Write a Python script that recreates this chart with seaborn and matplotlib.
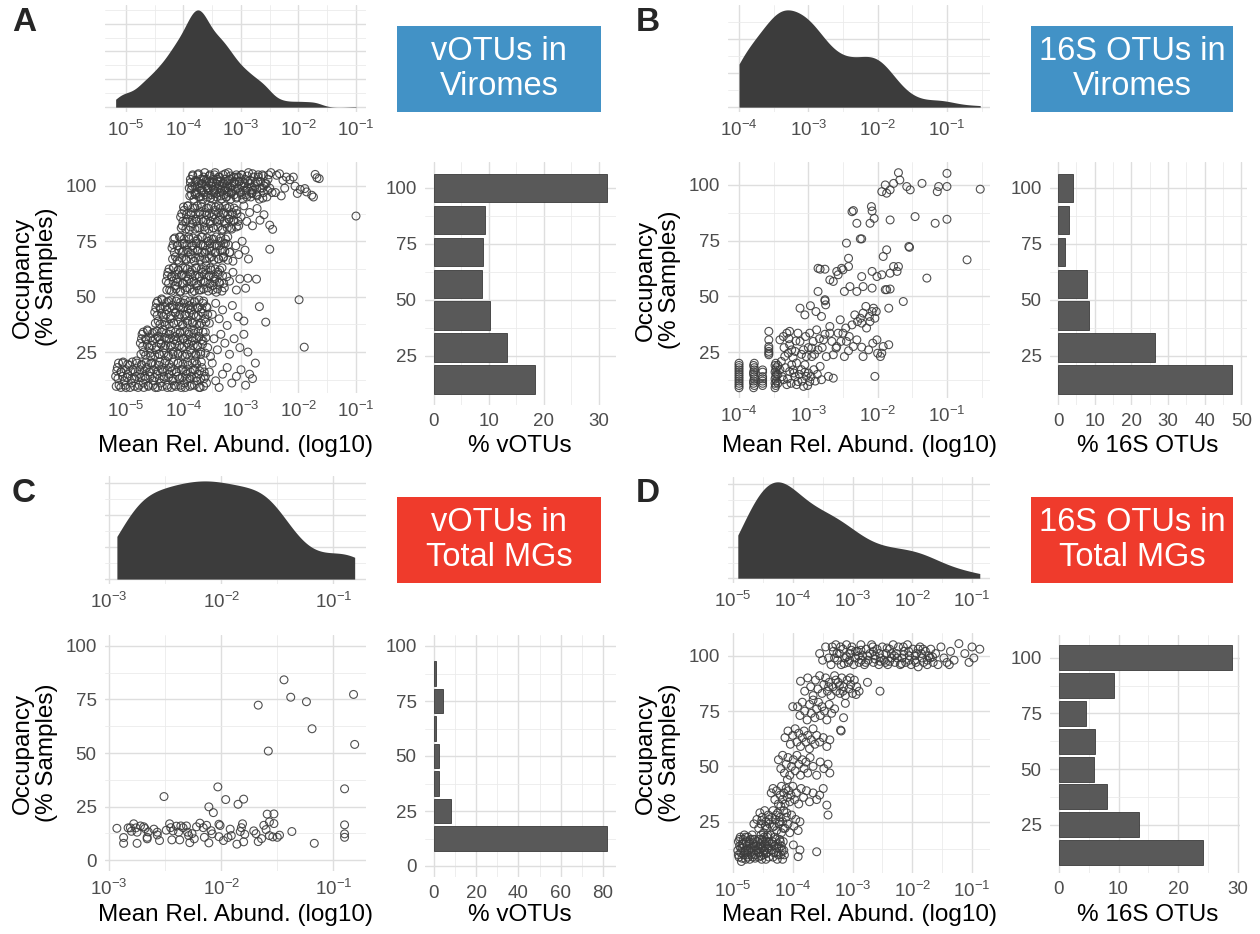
import numpy as np
import pandas as pd
import matplotlib
matplotlib.use("Agg")
import matplotlib.pyplot as plt
import matplotlib.ticker as mticker
import seaborn as sns

sns.set_style("white")
plt.rcParams["font.family"] = ["Liberation Sans", "DejaVu Sans"]
plt.rcParams["mathtext.default"] = "regular"

# ---- bar data: occupancy level (% samples) and % of OTUs -------------------
A_BAR_OCC = [14.3, 28.6, 42.9, 57.1, 71.4, 85.7, 100]
A_BAR_PCT = [18.4, 13.3, 10.2, 8.7, 9.0, 9.4, 31.5]
B_BAR_OCC = [14.3, 28.6, 42.9, 57.1, 71.4, 85.7, 100]
B_BAR_PCT = [47.4, 26.5, 8.4, 7.9, 1.9, 3.0, 4.0]
C_BAR_OCC = [12.5, 25, 37.5, 50, 62.5, 75, 87.5]
C_BAR_PCT = [82.0, 8.2, 2.4, 2.4, 1.3, 4.2, 1.3]
D_BAR_OCC = [12.5, 25, 37.5, 50, 62.5, 75, 87.5, 100]
D_BAR_PCT = [24.2, 13.4, 8.0, 5.9, 6.0, 4.5, 9.2, 28.9]

# ---- scatter data: (log10 mean rel. abundance, occupancy %) ----------------
A_PTS = [
    # ~100 %
    (-3.90, 99), (-3.88, 103), (-3.86, 96), (-3.84, 105), (-3.82, 94), (-3.80, 100), (-3.78, 102), (-3.77, 97),
    (-3.75, 105), (-3.73, 95), (-3.71, 99), (-3.70, 103), (-3.68, 101), (-3.66, 94), (-3.65, 97), (-3.63, 106),
    (-3.61, 100), (-3.60, 103), (-3.58, 95), (-3.57, 98), (-3.55, 102), (-3.54, 105), (-3.52, 96), (-3.51, 100),
    (-3.49, 94), (-3.48, 103), (-3.46, 98), (-3.45, 106), (-3.43, 101), (-3.42, 95), (-3.40, 99), (-3.39, 104),
    (-3.37, 97), (-3.36, 102), (-3.34, 94), (-3.33, 100), (-3.31, 105), (-3.30, 96), (-3.28, 103), (-3.27, 99),
    (-3.25, 95), (-3.24, 101), (-3.22, 106), (-3.21, 97), (-3.19, 103), (-3.18, 94), (-3.16, 100), (-3.15, 98),
    (-3.13, 104), (-3.12, 96), (-3.10, 101), (-3.08, 105), (-3.07, 95), (-3.05, 99), (-3.03, 102), (-3.01, 97),
    (-2.99, 105), (-2.97, 94), (-2.95, 100), (-2.93, 103), (-2.91, 96), (-2.89, 99), (-2.87, 106), (-2.85, 101),
    (-2.83, 95), (-2.80, 98), (-2.78, 104), (-2.76, 100), (-2.73, 96), (-2.71, 102), (-2.68, 94), (-2.66, 99),
    (-2.63, 105), (-2.61, 97), (-2.58, 101), (-2.55, 95), (-2.53, 103), (-2.50, 99), (-2.48, 106), (-2.46, 97),
    (-3.85, 100), (-3.79, 96), (-3.74, 101), (-3.69, 98), (-3.64, 103), (-3.59, 99), (-3.53, 101), (-3.47, 97),
    (-3.41, 102), (-3.35, 98), (-3.29, 101), (-3.23, 99), (-3.17, 97), (-3.11, 102), (-3.04, 104), (-2.96, 98),
    (-2.88, 102), (-2.81, 97), (-2.70, 105), (-2.60, 100),
    (-2.38, 104.8), (-2.33, 105.5), (-2.27, 102.5), (-2.21, 104), (-2.15, 102.8), (-2.09, 104), (-2.06, 99.9),
    (-2.02, 96.6), (-1.97, 98.4), (-1.89, 98.8), (-1.86, 97.3), (-1.77, 95.8), (-1.74, 95), (-1.71, 105.2),
    (-1.68, 103.7), (-1.64, 103.3), (-2.40, 97), (-2.30, 95.5), (-2.24, 99),
    # ~85.7 %
    (-4.05, 86), (-4.02, 82), (-3.99, 89), (-3.96, 84), (-3.93, 91), (-3.90, 80), (-3.87, 87), (-3.84, 83),
    (-3.81, 90), (-3.78, 85), (-3.75, 81), (-3.72, 88), (-3.69, 92), (-3.66, 84), (-3.63, 80), (-3.60, 87),
    (-3.57, 90), (-3.54, 83), (-3.51, 86), (-3.48, 81), (-3.45, 89), (-3.42, 84), (-3.39, 91), (-3.36, 86),
    (-3.33, 80), (-3.30, 88), (-3.27, 83), (-3.24, 90), (-3.21, 85), (-3.18, 81), (-3.15, 87), (-3.12, 84),
    (-3.08, 89), (-3.04, 82), (-3.00, 86), (-2.95, 91), (-2.90, 84), (-2.85, 88), (-2.80, 82), (-2.72, 89.8),
    (-2.67, 84.5), (-2.60, 87), (-2.50, 82.3), (-2.45, 80.4), (-1.00, 86.4),
    # ~71.4 %
    (-4.20, 72), (-4.17, 76), (-4.14, 68), (-4.11, 73), (-4.08, 66), (-4.05, 77), (-4.02, 70), (-3.99, 74),
    (-3.96, 67), (-3.93, 71), (-3.90, 76), (-3.87, 69), (-3.84, 73), (-3.81, 66), (-3.78, 75), (-3.75, 71),
    (-3.72, 68), (-3.69, 77), (-3.66, 73), (-3.63, 70), (-3.60, 66), (-3.57, 75), (-3.54, 72), (-3.51, 68),
    (-3.48, 76), (-3.45, 70), (-3.42, 73), (-3.39, 67), (-3.36, 75), (-3.33, 71), (-3.30, 68), (-3.27, 74),
    (-3.23, 77), (-3.19, 70), (-3.14, 66), (-3.09, 73), (-3.04, 69), (-2.98, 75), (-2.93, 71), (-2.87, 67),
    (-2.50, 71.4),
    # ~57.1 %
    (-4.30, 57), (-4.27, 61), (-4.24, 53), (-4.21, 59), (-4.18, 63), (-4.15, 55), (-4.12, 58), (-4.09, 62),
    (-4.06, 52), (-4.03, 60), (-4.00, 56), (-3.97, 63), (-3.94, 54), (-3.91, 58), (-3.88, 61), (-3.85, 52),
    (-3.82, 57), (-3.79, 63), (-3.76, 55), (-3.73, 59), (-3.70, 53), (-3.67, 61), (-3.64, 57), (-3.61, 64),
    (-3.58, 54), (-3.55, 59), (-3.52, 62), (-3.49, 55), (-3.46, 58), (-3.43, 52), (-3.40, 61), (-3.37, 56),
    (-3.33, 63), (-3.29, 54), (-3.25, 59), (-3.20, 57), (-3.14, 61), (-3.08, 53), (-3.02, 58), (-2.92, 53.8),
    (-2.88, 58.3), (-2.73, 57.9),
    # ~42.9 %
    (-4.50, 43), (-4.47, 47), (-4.44, 39), (-4.41, 45), (-4.38, 49), (-4.35, 41), (-4.32, 37), (-4.29, 44),
    (-4.26, 48), (-4.23, 40), (-4.20, 46), (-4.17, 38), (-4.14, 43), (-4.11, 49), (-4.08, 41), (-4.05, 45),
    (-4.02, 37), (-3.99, 47), (-3.96, 42), (-3.93, 39), (-3.90, 46), (-3.87, 44), (-3.84, 38), (-3.81, 48),
    (-3.78, 41), (-3.75, 45), (-3.72, 37), (-3.69, 43), (-3.66, 47), (-3.63, 40), (-3.59, 45), (-3.55, 38),
    (-3.50, 42), (-3.44, 47), (-3.38, 40), (-3.32, 44), (-3.24, 37), (-3.15, 46), (-3.05, 41), (-2.95, 39),
    (-2.68, 45.5), (-2.57, 38.5), (-1.99, 48.6),
    # ~28.6 %
    (-4.75, 29), (-4.72, 33), (-4.69, 25), (-4.66, 31), (-4.63, 35), (-4.60, 27), (-4.57, 23), (-4.54, 30),
    (-4.51, 34), (-4.48, 26), (-4.45, 32), (-4.42, 24), (-4.39, 29), (-4.36, 35), (-4.33, 27), (-4.30, 31),
    (-4.27, 23), (-4.24, 33), (-4.21, 28), (-4.18, 25), (-4.15, 32), (-4.12, 30), (-4.09, 24), (-4.06, 34),
    (-4.03, 27), (-4.00, 31), (-3.97, 23), (-3.94, 29), (-3.91, 33), (-3.88, 26), (-3.85, 30), (-3.82, 35),
    (-3.79, 24), (-3.76, 28), (-3.73, 32), (-3.70, 25), (-3.66, 30), (-3.62, 34), (-3.58, 27), (-3.53, 23),
    (-3.47, 31), (-3.41, 26), (-3.35, 33), (-3.28, 29), (-3.20, 24), (-3.12, 31), (-3.02, 27), (-2.95, 33),
    (-2.88, 25), (-1.90, 27.2),
    # ~14.3 %
    (-5.18, 14), (-5.15, 18), (-5.12, 10), (-5.09, 16), (-5.06, 20), (-5.03, 12), (-5.00, 9), (-4.97, 15),
    (-4.94, 19), (-4.91, 11), (-4.88, 17), (-4.85, 13), (-4.82, 21), (-4.79, 9), (-4.76, 15), (-4.73, 19),
    (-4.70, 11), (-4.67, 14), (-4.64, 18), (-4.61, 10), (-4.58, 16), (-4.55, 20), (-4.52, 12), (-4.49, 9),
    (-4.46, 15), (-4.43, 19), (-4.40, 11), (-4.37, 17), (-4.34, 13), (-4.31, 21), (-4.28, 9), (-4.25, 15),
    (-4.22, 18), (-4.19, 12), (-4.16, 10), (-4.13, 16), (-4.10, 20), (-4.07, 13), (-4.04, 9), (-4.01, 17),
    (-3.98, 11), (-3.95, 15), (-3.92, 19), (-3.89, 13), (-3.86, 10), (-3.83, 17), (-3.80, 21), (-3.77, 12),
    (-3.74, 15), (-3.71, 9), (-3.68, 18), (-3.64, 13), (-3.60, 11), (-3.55, 16), (-3.50, 20), (-3.44, 12),
    (-3.38, 9), (-3.32, 15), (-3.24, 18), (-3.16, 11), (-3.08, 14), (-3.00, 17), (-2.92, 10), (-2.85, 15),
    (-2.80, 13), (-2.75, 20),
]

# overplotted cores of panel A (estimated, the blocks are solid in the figure)
A_PTS_DENSE = [
    (-3.89, 95.5), (-3.80, 96.5), (-3.71, 95), (-3.62, 96), (-3.53, 94.5), (-3.44, 96.5), (-3.35, 95.5), (-3.26, 95),
    (-3.17, 96.5), (-3.08, 94.5), (-2.99, 96), (-2.90, 95), (-2.81, 96.5), (-2.72, 95.5), (-2.62, 94.5),
    (-3.86, 98.5), (-3.76, 99.5), (-3.67, 98), (-3.57, 99), (-3.48, 98.5), (-3.38, 100), (-3.29, 98), (-3.19, 99.5),
    (-3.10, 98.5), (-3.00, 100), (-2.91, 98), (-2.82, 99.5), (-2.73, 98.5), (-2.63, 99), (-2.54, 98),
    (-3.88, 101.5), (-3.79, 102.5), (-3.69, 101), (-3.60, 102), (-3.50, 101.5), (-3.41, 103), (-3.32, 101),
    (-3.22, 102.5), (-3.13, 101.5), (-3.03, 102), (-2.94, 101), (-2.84, 102.5), (-2.75, 101.5), (-2.66, 102),
    (-2.56, 101),
    (-3.84, 104.5), (-3.74, 105.5), (-3.65, 104), (-3.55, 104.5), (-3.46, 105), (-3.37, 104), (-3.27, 105.5),
    (-3.18, 104.5), (-3.08, 104), (-2.99, 105), (-2.89, 104.5), (-2.80, 105.5), (-2.70, 104), (-2.61, 104.5),
    (-2.52, 105),
    (-4.04, 81), (-3.96, 80.5), (-3.88, 81.5), (-3.80, 80.5), (-3.72, 81), (-3.64, 81.5), (-3.56, 80.5), (-3.48, 81),
    (-3.40, 81.5), (-3.32, 80.5), (-3.24, 81), (-3.16, 80.5), (-3.08, 81.5),
    (-4.01, 84), (-3.93, 85), (-3.85, 84.5), (-3.77, 84), (-3.69, 85), (-3.61, 84.5), (-3.53, 84), (-3.45, 85),
    (-3.37, 84.5), (-3.29, 84), (-3.21, 85), (-3.13, 84.5), (-3.05, 84),
    (-4.03, 87.5), (-3.95, 87), (-3.87, 88), (-3.79, 87.5), (-3.71, 87), (-3.63, 88), (-3.55, 87.5), (-3.47, 87),
    (-3.39, 88), (-3.31, 87.5), (-3.23, 87), (-3.15, 88), (-3.07, 87.5),
    (-4.00, 90.5), (-3.92, 91), (-3.84, 90), (-3.76, 91), (-3.68, 90.5), (-3.60, 90), (-3.52, 91), (-3.44, 90.5),
    (-3.36, 90), (-3.28, 91), (-3.20, 90.5), (-3.12, 90),
    (-4.19, 67), (-4.11, 66.5), (-4.03, 67.5), (-3.95, 66.5), (-3.87, 67), (-3.79, 67.5), (-3.71, 66.5), (-3.63, 67),
    (-3.55, 67.5), (-3.47, 66.5), (-3.39, 67), (-3.31, 67.5), (-3.23, 66.5),
    (-4.16, 70), (-4.08, 71), (-4.00, 70.5), (-3.92, 70), (-3.84, 71), (-3.76, 70.5), (-3.68, 70), (-3.60, 71),
    (-3.52, 70.5), (-3.44, 70), (-3.36, 71), (-3.28, 70.5), (-3.20, 70),
    (-4.18, 73.5), (-4.10, 73), (-4.02, 74), (-3.94, 73.5), (-3.86, 73), (-3.78, 74), (-3.70, 73.5), (-3.62, 73),
    (-3.54, 74), (-3.46, 73.5), (-3.38, 73), (-3.30, 74), (-3.22, 73.5),
    (-4.15, 76.5), (-4.07, 77), (-3.99, 76), (-3.91, 77), (-3.83, 76.5), (-3.75, 76), (-3.67, 77), (-3.59, 76.5),
    (-3.51, 76), (-3.43, 77), (-3.35, 76.5), (-3.27, 76),
    (-4.29, 53), (-4.21, 52.5), (-4.13, 53.5), (-4.05, 52.5), (-3.97, 53), (-3.89, 53.5), (-3.81, 52.5), (-3.73, 53),
    (-3.65, 53.5), (-3.57, 52.5), (-3.49, 53), (-3.41, 53.5), (-3.33, 52.5),
    (-4.26, 56), (-4.18, 57), (-4.10, 56.5), (-4.02, 56), (-3.94, 57), (-3.86, 56.5), (-3.78, 56), (-3.70, 57),
    (-3.62, 56.5), (-3.54, 56), (-3.46, 57), (-3.38, 56.5), (-3.30, 56),
    (-4.28, 59.5), (-4.20, 59), (-4.12, 60), (-4.04, 59.5), (-3.96, 59), (-3.88, 60), (-3.80, 59.5), (-3.72, 59),
    (-3.64, 60), (-3.56, 59.5), (-3.48, 59), (-3.40, 60), (-3.32, 59.5),
    (-4.25, 62.5), (-4.17, 63), (-4.09, 62), (-4.01, 63), (-3.93, 62.5), (-3.85, 62), (-3.77, 63), (-3.69, 62.5),
    (-3.61, 62), (-3.53, 63), (-3.45, 62.5), (-3.37, 62),
    (-4.49, 38), (-4.41, 37.5), (-4.33, 38.5), (-4.25, 37.5), (-4.17, 38), (-4.09, 38.5), (-4.01, 37.5), (-3.93, 38),
    (-3.85, 38.5), (-3.77, 37.5), (-3.69, 38), (-3.61, 38.5),
    (-4.46, 41.5), (-4.38, 42.5), (-4.30, 42), (-4.22, 41.5), (-4.14, 42.5), (-4.06, 42), (-3.98, 41.5), (-3.90, 42.5),
    (-3.82, 42), (-3.74, 41.5), (-3.66, 42.5), (-3.58, 42),
    (-4.48, 45), (-4.40, 44.5), (-4.32, 45.5), (-4.24, 45), (-4.16, 44.5), (-4.08, 45.5), (-4.00, 45), (-3.92, 44.5),
    (-3.84, 45.5), (-3.76, 45), (-3.68, 44.5), (-3.60, 45.5),
    (-4.45, 48), (-4.37, 48.5), (-4.29, 47.5), (-4.21, 48.5), (-4.13, 48), (-4.05, 47.5), (-3.97, 48.5), (-3.89, 48),
    (-3.81, 47.5), (-3.73, 48.5), (-3.65, 48),
    (-4.74, 24), (-4.66, 23.5), (-4.58, 24.5), (-4.50, 23.5), (-4.42, 24), (-4.34, 24.5), (-4.26, 23.5), (-4.18, 24),
    (-4.10, 24.5), (-4.02, 23.5), (-3.94, 24), (-3.86, 24.5), (-3.78, 23.5), (-3.70, 24), (-3.62, 24.5),
    (-4.71, 27.5), (-4.63, 28.5), (-4.55, 28), (-4.47, 27.5), (-4.39, 28.5), (-4.31, 28), (-4.23, 27.5), (-4.15, 28.5),
    (-4.07, 28), (-3.99, 27.5), (-3.91, 28.5), (-3.83, 28), (-3.75, 27.5), (-3.67, 28.5),
    (-4.73, 31), (-4.65, 30.5), (-4.57, 31.5), (-4.49, 31), (-4.41, 30.5), (-4.33, 31.5), (-4.25, 31), (-4.17, 30.5),
    (-4.09, 31.5), (-4.01, 31), (-3.93, 30.5), (-3.85, 31.5), (-3.77, 31), (-3.69, 30.5), (-3.61, 31.5),
    (-4.70, 34), (-4.62, 34.5), (-4.54, 33.5), (-4.46, 34.5), (-4.38, 34), (-4.30, 33.5), (-4.22, 34.5), (-4.14, 34),
    (-4.06, 33.5), (-3.98, 34.5), (-3.90, 34), (-3.82, 33.5), (-3.74, 34.5), (-3.66, 34),
    (-5.17, 9.5), (-5.09, 9), (-5.01, 10), (-4.93, 9), (-4.85, 9.5), (-4.77, 10), (-4.69, 9), (-4.61, 9.5),
    (-4.53, 10), (-4.45, 9), (-4.37, 9.5), (-4.29, 10), (-4.21, 9), (-4.13, 9.5), (-4.05, 10), (-3.97, 9),
    (-3.89, 9.5), (-3.81, 10), (-3.73, 9), (-3.65, 9.5),
    (-5.14, 13), (-5.06, 14), (-4.98, 13.5), (-4.90, 13), (-4.82, 14), (-4.74, 13.5), (-4.66, 13), (-4.58, 14),
    (-4.50, 13.5), (-4.42, 13), (-4.34, 14), (-4.26, 13.5), (-4.18, 13), (-4.10, 14), (-4.02, 13.5), (-3.94, 13),
    (-3.86, 14), (-3.78, 13.5), (-3.70, 13), (-3.62, 14),
    (-5.16, 16.5), (-5.08, 16), (-5.00, 17), (-4.92, 16.5), (-4.84, 16), (-4.76, 17), (-4.68, 16.5), (-4.60, 16),
    (-4.52, 17), (-4.44, 16.5), (-4.36, 16), (-4.28, 17), (-4.20, 16.5), (-4.12, 16), (-4.04, 17), (-3.96, 16.5),
    (-3.88, 16), (-3.80, 17), (-3.72, 16.5), (-3.64, 16),
    (-5.13, 20), (-5.05, 20.5), (-4.97, 19.5), (-4.89, 20.5), (-4.81, 20), (-4.73, 19.5), (-4.65, 20.5), (-4.57, 20),
    (-4.49, 19.5), (-4.41, 20.5), (-4.33, 20), (-4.25, 19.5), (-4.17, 20.5), (-4.09, 20), (-4.01, 19.5),
    (-3.93, 20.5), (-3.85, 20), (-3.77, 19.5), (-3.69, 20.5),
]

B_PTS = [
    (-4.00, 9), (-4.00, 11), (-4.00, 13), (-4.00, 15), (-4.00, 17), (-4.00, 19), (-4.00, 10), (-4.00, 12),
    (-4.00, 14), (-4.00, 16), (-4.00, 18), (-4.00, 20),
    (-3.79, 9), (-3.79, 11), (-3.78, 13), (-3.79, 15), (-3.78, 17), (-3.79, 19), (-3.78, 20), (-3.78, 10),
    (-3.79, 12), (-3.78, 14), (-3.79, 16), (-3.78, 18),
    (-3.66, 10), (-3.66, 12), (-3.66, 14), (-3.66, 16), (-3.66, 17), (-3.66, 11), (-3.66, 13),
    (-3.57, 23.8), (-3.57, 25.3), (-3.57, 27.5), (-3.57, 30.5), (-3.57, 34.3), (-3.57, 24.5), (-3.57, 26.5),
    (-3.48, 9), (-3.47, 10), (-3.48, 11), (-3.46, 12), (-3.48, 13), (-3.47, 14), (-3.46, 15), (-3.48, 16),
    (-3.47, 17), (-3.46, 18), (-3.48, 19), (-3.47, 20), (-3.44, 11), (-3.44, 15), (-3.44, 19),
    (-3.38, 14), (-3.33, 18), (-3.30, 13), (-3.25, 11), (-3.22, 17), (-3.19, 14), (-3.13, 15), (-3.09, 12),
    (-3.05, 16), (-3.01, 10), (-2.96, 14), (-2.90, 12), (-2.87, 15), (-3.35, 27), (-3.28, 31), (-3.24, 26),
    (-3.18, 30), (-3.10, 24), (-3.04, 32), (-3.00, 27), (-2.91, 24), (-2.84, 31), (-2.80, 27), (-2.76, 33),
    (-3.41, 30.5), (-3.36, 32), (-3.31, 33.5), (-3.27, 28.3), (-3.27, 34.3), (-3.22, 22.5), (-3.21, 15.6),
    (-3.17, 10.4), (-3.15, 33.5), (-3.12, 29.8), (-3.07, 26), (-3.05, 19.3), (-3.03, 14.1), (-2.98, 33.5),
    (-2.95, 23), (-2.93, 29.8), (-2.92, 17.1), (-2.88, 35), (-2.86, 26), (-2.83, 18.6), (-2.81, 12.6),
    (-2.78, 30.5), (-2.74, 23), (-2.71, 14.1), (-2.69, 33.5),
    (-3.12, 44.7), (-3.05, 41.7), (-2.97, 45.8), (-2.89, 43.2), (-2.81, 41.0), (-2.76, 48), (-2.75, 46.2),
    (-3.41, 17.1), (-3.36, 12.6), (-3.31, 10.4), (-3.27, 16.3), (-3.24, 19.3), (-3.17, 20.1), (-3.15, 11.8),
    (-3.10, 17.1), (-3.07, 9.6), (-3.00, 15.6), (-2.98, 11.8), (-3.39, 20.8), (-3.34, 23.1), (-3.29, 24.5),
    (-3.19, 25.3), (-3.03, 23), (-2.95, 26.8),
    (-2.69, 36.5), (-2.66, 29.8), (-2.64, 23.8), (-2.60, 26.8), (-2.57, 33.5), (-2.54, 39.5), (-2.53, 29.8),
    (-2.50, 33.5), (-2.48, 23), (-2.46, 35.8), (-2.45, 29.8), (-2.41, 32), (-2.37, 37.2), (-2.35, 27.5),
    (-2.33, 41.7), (-2.29, 38.7), (-2.25, 40.2), (-2.23, 38), (-2.21, 42.5), (-2.17, 45.5), (-2.16, 35.8),
    (-2.12, 41), (-2.11, 38.7), (-2.08, 43.2), (-2.06, 44.7), (-2.04, 40.2), (-2.01, 30.5), (-2.00, 24.5),
    (-2.64, 13.3), (-2.42, 25.6), (-2.23, 27.2), (-2.13, 26), (-2.07, 29), (-2.59, 27.5), (-2.30, 30.5),
    (-2.86, 62.6), (-2.83, 62.2), (-2.76, 62.2), (-2.86, 52.2), (-2.76, 48.5), (-2.69, 57.4), (-2.64, 56.7),
    (-2.59, 61.2), (-2.57, 59.7), (-2.52, 62.6), (-2.50, 61.9), (-2.48, 52.2), (-2.45, 73.9), (-2.42, 67.1),
    (-2.42, 63.4), (-2.40, 54.4), (-2.37, 88), (-2.35, 88.5), (-2.30, 82.8), (-2.30, 52.2), (-2.25, 75.8),
    (-2.23, 75.8), (-2.23, 58.9), (-2.21, 54.4), (-2.11, 82.8), (-2.09, 90.3), (-2.08, 88.3), (-2.08, 61.2),
    (-2.08, 53.7), (-2.05, 85), (-2.01, 58.9), (-2.02, 43.2),
    (-1.94, 97), (-1.89, 100), (-1.87, 96.3), (-1.82, 97.8), (-1.77, 100.7), (-1.70, 105.5), (-1.68, 102.2),
    (-1.58, 99.3), (-1.53, 97.8), (-1.36, 100.7), (-1.14, 97), (-1.12, 99.3), (-1.00, 105.2), (-1.00, 99.3),
    (-0.52, 98.1),
    (-1.82, 84.3), (-1.46, 85.8), (-1.17, 82.8), (-1.00, 84.6), (-1.87, 70.9), (-1.55, 72.4), (-1.54, 72),
    (-1.94, 59.7), (-1.92, 67.9), (-1.82, 60.4), (-1.77, 63.4), (-1.70, 63.4), (-1.89, 53), (-1.87, 53),
    (-1.82, 53.3), (-1.63, 47.7), (-1.84, 44.7), (-1.29, 58.2), (-0.71, 66.4), (-1.92, 27.5), (-1.94, 24.5),
    (-1.96, 23), (-2.04, 14.1), (-2.21, 23), (-1.84, 28.3), (-1.72, 61.2),
]

C_PTS = [
    (-2.93, 14.9), (-2.87, 10.6), (-2.87, 7.9), (-2.83, 15.1), (-2.81, 15.1), (-2.78, 17.0), (-2.76, 15.1),
    (-2.75, 13.1), (-2.75, 7.9), (-2.72, 16.0), (-2.69, 15.6), (-2.68, 14.8), (-2.66, 10.7), (-2.66, 10.0),
    (-2.60, 14.5), (-2.57, 13.1), (-2.57, 11.8), (-2.55, 9.2), (-2.51, 29.7), (-2.49, 14.0), (-2.46, 17.0),
    (-2.45, 15.2), (-2.44, 9.5), (-2.43, 13.7), (-2.38, 13.1), (-2.37, 9.5), (-2.36, 16.0), (-2.34, 15.2),
    (-2.31, 16.0), (-2.30, 13.1), (-2.29, 11.5), (-2.28, 8.2), (-2.24, 10.0), (-2.19, 17.3), (-2.16, 15.2),
    (-2.15, 10.7), (-2.13, 16.3), (-2.11, 24.9), (-2.11, 8.1), (-2.09, 13.8), (-2.07, 22.2), (-2.08, 12.3),
    (-2.03, 34.2), (-2.02, 16.8), (-2.01, 16.2), (-2.02, 11.0), (-1.98, 9.2), (-1.96, 28.3), (-1.94, 10.6),
    (-1.92, 14.5), (-1.91, 11.5), (-1.86, 7.5), (-1.85, 26.1), (-1.83, 13.4), (-1.82, 15.2), (-1.80, 28.5),
    (-1.81, 17.0), (-1.79, 12.1), (-1.80, 8.6), (-1.71, 13.7), (-1.69, 12.4), (-1.67, 8.7), (-1.67, 72.3),
    (-1.62, 16.3), (-1.60, 14.3), (-1.59, 21.5), (-1.58, 50.9), (-1.57, 11.5), (-1.54, 10.9), (-1.53, 21.6),
    (-1.53, 17.1), (-1.50, 10.7), (-1.48, 11.7), (-1.44, 84.1), (-1.38, 76.0), (-1.37, 13.4), (-1.24, 73.9),
    (-1.19, 61.3), (-1.17, 7.9), (-0.90, 33.3), (-0.90, 16.5), (-0.90, 12.3), (-0.90, 10.7), (-0.82, 77.3),
    (-0.81, 54.0), (-2.80, 13.5), (-2.65, 13.2), (-2.40, 15.9), (-2.26, 12.4), (-2.22, 15.6), (-1.64, 10.1),
    (-1.57, 17.9),
]

D_PTS = [
    # ~12.5 %
    (-4.92, 12), (-4.91, 16), (-4.90, 9), (-4.89, 14), (-4.88, 18), (-4.87, 11), (-4.86, 7), (-4.85, 15),
    (-4.84, 13), (-4.83, 17), (-4.82, 10), (-4.81, 19), (-4.80, 12), (-4.79, 8), (-4.78, 16), (-4.77, 14),
    (-4.76, 10), (-4.75, 18), (-4.74, 12), (-4.73, 15), (-4.72, 8), (-4.71, 17), (-4.70, 11), (-4.69, 13),
    (-4.68, 19), (-4.67, 9), (-4.66, 15), (-4.65, 12), (-4.64, 17), (-4.63, 10), (-4.62, 14),
    (-4.58, 13), (-4.57, 9), (-4.56, 17), (-4.55, 11), (-4.54, 15), (-4.53, 19), (-4.52, 8), (-4.51, 13),
    (-4.50, 16), (-4.49, 10), (-4.48, 18), (-4.47, 12), (-4.46, 14), (-4.45, 8), (-4.44, 16), (-4.43, 11),
    (-4.42, 19), (-4.41, 13), (-4.40, 9), (-4.40, 16),
    (-4.36, 12), (-4.34, 16), (-4.33, 9), (-4.31, 14), (-4.30, 18), (-4.28, 11), (-4.26, 8), (-4.25, 15),
    (-4.23, 13), (-4.22, 17), (-4.20, 10), (-4.19, 14), (-4.17, 8), (-4.16, 16), (-4.15, 12), (-4.14, 10),
    (-3.99, 14.5), (-3.91, 9.2), (-3.88, 12.2), (-3.60, 11.4),
    (-4.91, 10), (-4.89, 17), (-4.87, 13), (-4.85, 8.5), (-4.83, 15), (-4.81, 11), (-4.79, 18), (-4.77, 12),
    (-4.75, 9), (-4.73, 16), (-4.71, 13), (-4.69, 10), (-4.67, 17), (-4.65, 14), (-4.63, 8.5), (-4.61, 12),
    (-4.59, 16), (-4.57, 11), (-4.55, 14), (-4.53, 9.5), (-4.51, 17), (-4.49, 12), (-4.47, 15), (-4.45, 10.5),
    (-4.43, 18), (-4.41, 14), (-4.35, 15), (-4.32, 11), (-4.29, 17), (-4.27, 13), (-4.24, 10), (-4.21, 16),
    (-4.18, 12),
    # ~25 %
    (-4.60, 26), (-4.57, 22), (-4.55, 29), (-4.53, 24), (-4.51, 27), (-4.49, 20), (-4.47, 30), (-4.45, 25),
    (-4.43, 22), (-4.41, 28), (-4.39, 24), (-4.37, 19), (-4.35, 27), (-4.33, 30), (-4.31, 23), (-4.29, 26),
    (-4.27, 21), (-4.25, 29), (-4.23, 24), (-4.21, 27), (-4.19, 20), (-4.17, 25), (-4.15, 30), (-4.13, 22),
    (-4.11, 27), (-4.08, 24), (-4.05, 20), (-4.02, 28), (-3.98, 23), (-3.95, 26), (-3.91, 21), (-3.88, 25),
    (-3.43, 32.5), (-3.41, 28), (-4.65, 24), (-4.20, 32),
    (-4.52, 25.5), (-4.46, 23), (-4.40, 26), (-4.34, 22.5), (-4.28, 28), (-4.22, 25), (-4.16, 22), (-4.10, 29),
    # ~37.5 %
    (-4.36, 38), (-4.33, 40), (-4.30, 35), (-4.27, 39), (-4.24, 33), (-4.21, 37), (-4.19, 41), (-4.17, 35),
    (-4.15, 38), (-4.13, 33), (-4.11, 40), (-4.09, 36), (-4.07, 39), (-4.05, 34), (-4.03, 37), (-4.00, 41),
    (-3.97, 35), (-3.94, 38), (-3.90, 33), (-3.86, 40), (-3.82, 36), (-3.77, 39), (-3.72, 34), (-3.66, 38),
    (-3.60, 35), (-3.55, 37), (-3.49, 40),
    # ~50 %
    (-4.24, 53), (-4.20, 49), (-4.17, 55), (-4.14, 47), (-4.11, 51), (-4.08, 54), (-4.05, 46), (-4.02, 50),
    (-3.99, 53), (-3.96, 48), (-3.93, 55), (-3.90, 51), (-3.87, 46), (-3.84, 53), (-3.81, 49), (-3.78, 52),
    (-3.75, 47), (-3.71, 54), (-3.66, 50), (-3.60, 46), (-3.54, 52), (-3.48, 49), (-3.41, 51), (-3.38, 47),
    (-4.09, 44),
    # ~62.5 %
    (-4.13, 63), (-4.08, 66), (-4.04, 60), (-4.00, 64), (-3.96, 67), (-3.93, 61), (-3.90, 65), (-3.87, 59),
    (-3.84, 63), (-3.81, 66), (-3.78, 61), (-3.75, 64), (-3.72, 58), (-3.69, 62), (-3.66, 67), (-3.63, 60),
    (-3.60, 64), (-3.55, 61), (-3.49, 63), (-3.43, 59), (-3.38, 62), (-3.20, 66.4), (-3.19, 66),
    # ~75 %
    (-3.92, 77), (-3.88, 73), (-3.84, 79), (-3.80, 75), (-3.76, 71), (-3.72, 78), (-3.69, 74), (-3.66, 80),
    (-3.63, 72), (-3.60, 76), (-3.57, 79), (-3.54, 73), (-3.51, 77), (-3.47, 75), (-3.43, 71), (-3.39, 78),
    (-3.35, 74), (-3.30, 76), (-3.15, 72), (-3.12, 78.5), (-4.00, 77),
    # ~87.5 %
    (-3.87, 88.5), (-3.80, 84), (-3.75, 90), (-3.70, 86), (-3.66, 82), (-3.62, 89), (-3.58, 85), (-3.55, 91),
    (-3.51, 83), (-3.48, 87), (-3.45, 90), (-3.42, 84), (-3.39, 88), (-3.36, 82), (-3.33, 86), (-3.30, 91),
    (-3.27, 84), (-3.24, 88), (-3.21, 83), (-3.18, 90), (-3.15, 86), (-3.12, 82), (-3.09, 89), (-3.06, 85),
    (-3.03, 87), (-3.00, 83), (-2.97, 89), (-2.93, 86), (-2.89, 84), (-2.75, 88), (-2.54, 84),
    (-3.40, 86), (-3.28, 89), (-3.16, 84), (-3.04, 90), (-2.94, 82.5), (-3.22, 86.5),
    # ~100 %
    (-3.55, 101), (-3.50, 98), (-3.45, 104), (-3.40, 99), (-3.36, 96), (-3.32, 102), (-3.28, 105), (-3.25, 98),
    (-3.22, 101), (-3.19, 96), (-3.16, 103), (-3.13, 99), (-3.10, 105), (-3.07, 97), (-3.04, 101), (-3.01, 104),
    (-2.98, 96), (-2.95, 99), (-2.92, 102), (-2.89, 97), (-2.86, 105), (-2.83, 100), (-2.80, 96), (-2.77, 103),
    (-2.74, 98), (-2.71, 101), (-2.68, 105), (-2.65, 97), (-2.62, 100), (-2.59, 103), (-2.56, 96), (-2.53, 99),
    (-2.50, 104), (-2.47, 98), (-2.44, 101), (-2.41, 96), (-2.38, 103), (-2.35, 99), (-2.32, 105), (-2.29, 97),
    (-2.26, 101), (-2.23, 104), (-2.20, 96), (-2.17, 99), (-2.14, 102), (-2.11, 97), (-2.08, 105), (-2.05, 100),
    (-2.02, 96), (-1.99, 103), (-1.96, 98), (-1.93, 101), (-1.90, 95), (-1.87, 104), (-1.84, 99), (-1.81, 97),
    (-1.78, 102), (-1.75, 96), (-1.72, 100), (-1.69, 103), (-1.65, 97), (-1.61, 101), (-1.57, 96), (-1.52, 104),
    (-1.47, 99), (-1.42, 97), (-1.36, 102), (-1.30, 98), (-1.22, 105.5), (-1.12, 101), (-1.05, 97), (-1.00, 104),
    (-0.97, 99), (-1.38, 96), (-0.87, 103),
    (-3.30, 99), (-3.20, 104), (-3.05, 98), (-2.95, 102), (-2.85, 98), (-2.75, 100), (-2.65, 102), (-2.55, 101),
    (-2.45, 97), (-2.35, 101), (-2.25, 99), (-2.15, 104), (-2.05, 98), (-1.95, 100), (-1.85, 101), (-1.75, 98),
    (-3.26, 101), (-3.14, 96.5), (-3.02, 102.5), (-2.90, 100), (-2.78, 97), (-2.66, 104), (-2.54, 97.5),
    (-2.42, 103.5), (-2.30, 100), (-2.18, 96.5), (-2.06, 102), (-1.94, 97), (-1.82, 103), (-1.70, 99),
    (-3.34, 104), (-3.10, 99.5), (-2.86, 102.5), (-2.62, 98.5), (-2.38, 97.5), (-2.14, 100.5), (-1.90, 103),
    (-1.66, 99.5),
]

W, H = 1260, 934
fig = plt.figure(figsize=(W / 100, H / 100), dpi=100)

GRID_MAJOR = "#dedede"
GRID_MINOR = "#ebebeb"
TICK_COL = "#4d4d4d"
DARK = "#3c3c3c"


def px_axes(x0, y0, x1, y1):
    return fig.add_axes([x0 / W, 1 - y1 / H, (x1 - x0) / W, (y1 - y0) / H])


def base_style(ax):
    for s in ax.spines.values():
        s.set_visible(False)
    ax.set_axisbelow(True)
    ax.grid(True, which="major", color=GRID_MAJOR, lw=1.0)
    ax.grid(True, which="minor", color=GRID_MINOR, lw=0.6)
    ax.tick_params(which="major", length=4, width=0.8, color="#a0a0a0",
                   labelsize=13.5, labelcolor=TICK_COL, pad=2)
    ax.tick_params(which="minor", length=0)
    ax.set_xlabel("")
    ax.set_ylabel("")


def log_axis(ax, xlim, exps):
    ax.set_xscale("log")
    ax.set_xlim(10.0 ** xlim[0], 10.0 ** xlim[1])
    ax.xaxis.set_major_locator(mticker.FixedLocator(10.0 ** np.array(exps, dtype=float)))
    ax.xaxis.set_major_formatter(mticker.FuncFormatter(
        lambda v, p: r"$10^{%d}$" % int(round(np.log10(v)))))
    mids = np.arange(np.floor(xlim[0]) - 1, np.ceil(xlim[1]) + 1) + 0.5
    ax.xaxis.set_minor_locator(mticker.FixedLocator(10.0 ** mids))


def to_frame(pts, occ, pct):
    # each point counts toward its occupancy level so that the density
    # follows the level shares shown in the bar panel (overplotting)
    df = pd.DataFrame(pts, columns=["log_abund", "occ"])
    levels = np.array(occ, dtype=float)
    idx = np.abs(df["occ"].values[:, None] - levels[None, :]).argmin(axis=1)
    counts = np.bincount(idx, minlength=len(levels))
    df["w"] = np.array(pct, dtype=float)[idx] / counts[idx]
    df["abund"] = 10.0 ** df["log_abund"]
    return df


def density(box, df, xlim, exps, bw):
    ax = px_axes(*box)
    sns.kdeplot(data=df, x="abund", weights="w", log_scale=True, fill=True, cut=0,
                bw_adjust=bw, color=DARK, alpha=1, linewidth=0, ax=ax)
    top = max(p.vertices[:, 1].max() for p in ax.collections[0].get_paths())
    ax.set_ylim(-0.05 * top, 1.05 * top)
    ax.yaxis.set_major_locator(mticker.MaxNLocator(4))
    ax.yaxis.set_minor_locator(mticker.AutoMinorLocator(2))
    ax.yaxis.set_major_formatter(mticker.NullFormatter())
    log_axis(ax, xlim, exps)
    base_style(ax)
    return ax


def scatter(box, df, xlim, exps, ylim, yticks):
    ax = px_axes(*box)
    sns.scatterplot(data=df, x="abund", y="occ", ax=ax, facecolors="none",
                    edgecolor=DARK, s=32, linewidth=0.8, alpha=0.9, legend=False)
    log_axis(ax, xlim, exps)
    ax.set_ylim(*ylim)
    ax.yaxis.set_major_locator(mticker.FixedLocator(yticks))
    ax.yaxis.set_minor_locator(mticker.FixedLocator(np.array(yticks) - 12.5))
    base_style(ax)
    return ax


def bars(box, occ, pct, xlim, xticks, ylim, yticks):
    ax = px_axes(*box)
    df = pd.DataFrame({"occ": occ, "pct": pct})
    sns.barplot(data=df, x="pct", y="occ", orient="h", native_scale=True,
                color="#595959", saturation=1, width=0.9, edgecolor="#3a3a3a",
                linewidth=0.6, ax=ax)
    ax.set_xlim(*xlim)
    ax.set_ylim(*ylim)
    ax.xaxis.set_major_locator(mticker.FixedLocator(xticks))
    step = xticks[1] - xticks[0]
    ax.xaxis.set_minor_locator(mticker.FixedLocator(np.array(xticks) + step / 2))
    ax.yaxis.set_major_locator(mticker.FixedLocator(yticks))
    ax.yaxis.set_minor_locator(mticker.FixedLocator(np.array(yticks) + 12.5))
    base_style(ax)
    return ax


def title_box(box, text, color):
    ax = px_axes(*box)
    ax.set_facecolor(color)
    ax.set_xticks([])
    ax.set_yticks([])
    for s in ax.spines.values():
        s.set_visible(False)
    ax.text(0.5, 0.5, text, ha="center", va="center", color="white",
            fontsize=23.5, linespacing=1.2, transform=ax.transAxes)


def ftext(x, y, s, **kw):
    fig.text(x / W, 1 - y / H, s, **kw)


BLUE = "#4292c6"
RED = "#ef3b2c"

# ---- panel A ---------------------------------------------------------------
A_XLIM = (-5.365, -0.826)
a_df = to_frame(A_PTS + A_PTS_DENSE, A_BAR_OCC, A_BAR_PCT)
density((105, 5, 366, 112), a_df, A_XLIM, [-5, -4, -3, -2, -1], 0.7)
scatter((105, 162, 366, 393), a_df, A_XLIM, [-5, -4, -3, -2, -1], (6.5, 110.8), [25, 50, 75, 100])
bars((425, 162, 616, 405), A_BAR_OCC, A_BAR_PCT, (-1.58, 33.1), [0, 10, 20, 30], (3.0, 111.6), [25, 50, 75, 100])
title_box((397, 26, 601, 112), "vOTUs in\nViromes", BLUE)

# ---- panel B ---------------------------------------------------------------
B_XLIM = (-4.159, -0.379)
b_df = to_frame(B_PTS, B_BAR_OCC, B_BAR_PCT)
density((728, 5, 990, 112), b_df, B_XLIM, [-4, -3, -2, -1], 0.8)
scatter((728, 162, 990, 398), b_df, B_XLIM, [-4, -3, -2, -1], (4.4, 110.3), [25, 50, 75, 100])
bars((1050, 162, 1247, 405), B_BAR_OCC, B_BAR_PCT, (-2.2, 51.5), [0, 10, 20, 30, 40, 50], (3.0, 111.6), [25, 50, 75, 100])
title_box((1031, 26, 1233, 112), "16S OTUs in\nViromes", BLUE)

# ---- panel C ---------------------------------------------------------------
C_XLIM = (-3.036, -0.709)
c_df = to_frame(C_PTS, C_BAR_OCC, C_BAR_PCT)
density((105, 476, 366, 584), c_df, C_XLIM, [-3, -2, -1], 0.9)
scatter((105, 635, 366, 871), c_df, C_XLIM, [-3, -2, -1], (-5, 105), [0, 25, 50, 75, 100])
bars((425, 635, 616, 877), C_BAR_OCC, C_BAR_PCT, (-4.1, 86.1), [0, 20, 40, 60, 80], (-5, 105), [0, 25, 50, 75, 100])
title_box((397, 497, 601, 583), "vOTUs in\nTotal MGs", RED)

# ---- panel D ---------------------------------------------------------------
D_XLIM = (-5.084, -0.699)
d_df = to_frame(D_PTS, D_BAR_OCC, D_BAR_PCT)
density((728, 477, 990, 583), d_df, D_XLIM, [-5, -4, -3, -2, -1], 1.1)
scatter((728, 633, 990, 873), d_df, D_XLIM, [-5, -4, -3, -2, -1], (1.8, 110.3), [25, 50, 75, 100])
bars((1050, 635, 1240, 873), D_BAR_OCC, D_BAR_PCT, (-1.45, 30.3), [0, 10, 20, 30], (3.3, 110.2), [25, 50, 75, 100])
title_box((1031, 497, 1233, 583), "16S OTUs in\nTotal MGs", RED)

# ---- labels ------------------------------------------------------------------
LAB = dict(fontsize=17.5, color="black")
for cx, cy in [(35, 277), (658, 280), (35, 753), (658, 753)]:
    ftext(cx, cy, "Occupancy\n(% Samples)", ha="center", va="center", rotation=90,
          multialignment="center", linespacing=1.1, **LAB)
for cx, cy in [(235, 446), (859, 446), (235, 915), (859, 915)]:
    ftext(cx, cy, "Mean Rel. Abund. (log10)", ha="center", va="center", **LAB)
ftext(520, 446, "% vOTUs", ha="center", va="center", **LAB)
ftext(1148, 446, "% 16S OTUs", ha="center", va="center", **LAB)
ftext(520, 915, "% vOTUs", ha="center", va="center", **LAB)
ftext(1148, 915, "% 16S OTUs", ha="center", va="center", **LAB)

for x, y, s in [(12, 7, "A"), (636, 7, "B"), (12, 478, "C"), (636, 478, "D")]:
    ftext(x, y, s, ha="left", va="top", fontsize=24, fontweight="bold")

fig.savefig("out.png", dpi=100)
